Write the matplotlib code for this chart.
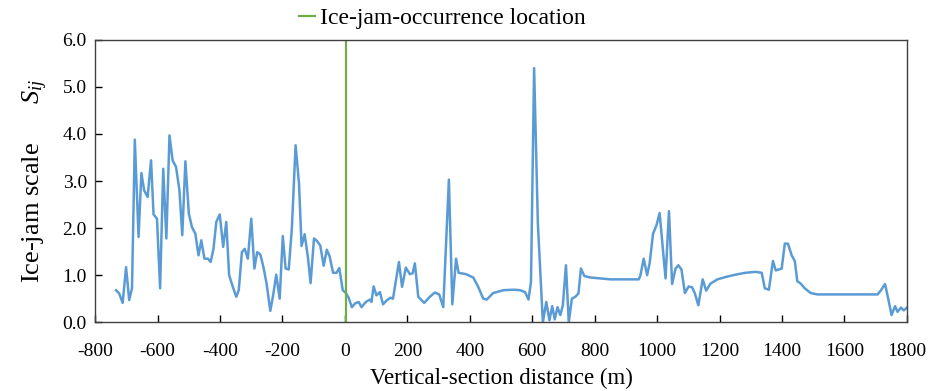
import matplotlib.pyplot as plt
import numpy as np

# Fonte parecida com Times
plt.rcParams["font.family"] = "Liberation Serif"
plt.rcParams["mathtext.fontset"] = "custom"
plt.rcParams["mathtext.rm"] = "Liberation Serif"
plt.rcParams["mathtext.it"] = "Liberation Serif:italic"
plt.rcParams["axes.unicode_minus"] = False

# Distancia ao longo da secao (m)
distancia = [
    -733, -723, -712, -701, -691, -682, -673, -661, -652, -643, -632, -621, -613, -602,
    -592, -582, -572, -562, -552, -541, -530, -521, -511, -500, -490, -479, -469, -460,
    -450, -439, -430, -421, -412, -401, -390, -380, -371, -359, -348, -340, -330, -321,
    -311, -300, -290, -281, -271, -261, -251, -239, -229, -220, -209, -199, -190, -180,
    -170, -158, -147, -139, -129, -118, -110, -99, -90, -79, -68, -58, -49, -38, -27,
    -18, -7, 3, 12, 22, 33, 44, 53, 67, 80, 85, 92, 101, 112, 122, 135, 146, 154, 173,
    183, 195, 208, 217, 224, 235, 254, 272, 288, 302, 315, 333, 344, 356, 364, 388, 411,
    427, 443, 454, 475, 508, 540, 561, 577, 588, 596, 606, 618, 634, 645, 655, 664, 672,
    681, 690, 698, 708, 717, 727, 738, 748, 756, 767, 786, 818, 850, 893, 941, 946, 957,
    968, 976, 987, 998, 1008, 1027, 1038, 1048, 1059, 1068, 1078, 1089, 1101, 1112, 1121,
    1132, 1146, 1157, 1171, 1193, 1219, 1251, 1283, 1315, 1335, 1345, 1358, 1371, 1380,
    1399, 1409, 1419, 1431, 1441, 1449, 1460, 1473, 1492, 1513, 1610, 1706, 1717, 1730,
    1738, 1751, 1762, 1770, 1781, 1790, 1800,
]

# Escala do congelamento S_ij
escala = [
    0.68, 0.61, 0.41, 1.17, 0.47, 0.72, 3.88, 1.81, 3.17, 2.80, 2.66, 3.44, 2.29, 2.20,
    0.72, 3.26, 1.78, 3.97, 3.44, 3.30, 2.80, 1.85, 3.42, 2.31, 2.02, 1.88, 1.42, 1.74,
    1.35, 1.35, 1.28, 1.56, 2.13, 2.29, 1.60, 2.13, 1.00, 0.75, 0.54, 0.68, 1.49, 1.56,
    1.35, 2.20, 1.14, 1.49, 1.44, 1.17, 0.82, 0.24, 0.61, 1.01, 0.50, 1.83, 1.14, 1.12,
    1.99, 3.76, 2.94, 1.62, 1.87, 1.35, 0.83, 1.78, 1.73, 1.63, 1.20, 1.54, 1.40, 1.05, 1.05,
    1.15, 0.68, 0.62, 0.52, 0.32, 0.40, 0.43, 0.32, 0.43, 0.48, 0.43, 0.76, 0.57, 0.64, 0.38, 0.47, 0.52, 0.50, 1.28,
    0.75, 1.16, 1.02, 1.04, 1.25, 0.54, 0.41, 0.54, 0.63, 0.59, 0.32, 3.03, 0.38, 1.35, 1.05, 1.02, 0.95,
    0.75, 0.50, 0.48, 0.62, 0.68, 0.69, 0.68, 0.64, 0.48, 0.86, 5.40, 2.10, 0.00, 0.43, 0.04, 0.34, 0.06,
    0.32, 0.15, 0.36, 1.21, 0.00, 0.50, 0.54, 0.61, 1.14, 0.98, 0.95, 0.93, 0.91, 0.91, 0.91, 0.98, 1.35,
    1.00, 1.25, 1.88, 2.06, 2.32, 0.93, 2.36, 0.81, 1.14, 1.21, 1.12, 0.62, 0.76, 0.74, 0.61,
    0.36, 0.91, 0.67, 0.82, 0.91, 0.96, 1.01, 1.05, 1.07, 1.05, 0.72, 0.69, 1.30, 1.10,
    1.14, 1.67, 1.67, 1.42, 1.30, 0.87, 0.82, 0.72, 0.62, 0.59, 0.59, 0.59, 0.68, 0.81,
    0.57, 0.15, 0.34, 0.22, 0.31, 0.25, 0.31,
]

# Local onde ocorreu o congelamento
local_congelamento = 3

fig = plt.figure(figsize=(9.33, 3.91), dpi=100)
ax = fig.add_axes([0.102, 0.176, 0.870, 0.722])

ax.plot(distancia, escala, color="#5B9BD5", lw=1.8)
ax.axvline(local_congelamento, color="#70AD47", lw=1.6, label="Ice-jam-occurrence location")

ax.set_xlim(-800, 1800)
ax.set_ylim(0, 6)
ax.set_xticks(np.arange(-800, 1801, 200))
ax.set_yticks(np.arange(0, 6.1, 1))
ax.set_yticklabels([f"{v:.1f}" for v in np.arange(0, 6.1, 1)])
ax.tick_params(direction="in", length=5, width=1, labelsize=14, colors="black")
ax.tick_params(axis="x", pad=15)
ax.tick_params(axis="y", pad=6)
for s in ax.spines.values():
    s.set_color("#404040")
    s.set_linewidth(1.0)

ax.set_xlabel("Vertical-section distance (m)", fontsize=16.5, labelpad=6)
ax.set_ylabel("Ice-jam scale      $S_{ij}$", fontsize=19, labelpad=9)

fig.legend(loc="center", bbox_to_anchor=(0.474, 0.953), frameon=False, fontsize=17,
           handlelength=0.7, handletextpad=0.2)

plt.savefig("out.png", dpi=100)
